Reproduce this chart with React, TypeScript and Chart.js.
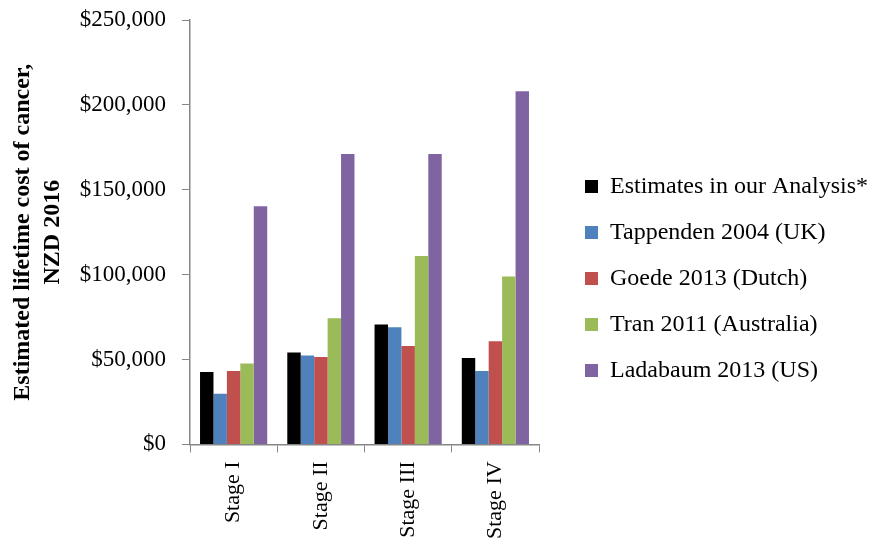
import { useEffect, useRef } from 'react';
import { Chart, registerables } from 'chart.js';

Chart.register(...registerables);

const stages = ['Stage I', 'Stage II', 'Stage III', 'Stage IV'];
const seriesNames = [
  'Estimates in our Analysis*',
  'Tappenden 2004 (UK)',
  'Goede 2013 (Dutch)',
  'Tran 2011 (Australia)',
  'Ladabaum 2013 (US)',
];
const ourAnalysis = [42600, 54100, 70600, 50900];
const tappenden = [29900, 52300, 69000, 43200];
const goede = [43200, 51500, 58000, 60700];
const tran = [47600, 74300, 111000, 98900];
const ladabaum = [140300, 171000, 171000, 208000];
const colors = ['#000000', '#4F81BD', '#C0504D', '#9BBB59', '#8064A2'];

const FONT = "'Liberation Serif', 'Times New Roman', serif";

export default function App() {
  const chartRef = useRef<HTMLCanvasElement>(null);
  const chartInstance = useRef<Chart | null>(null);

  useEffect(() => {
    document.body.style.margin = '0';
    if (!chartRef.current) return;
    if (chartInstance.current) chartInstance.current.destroy();

    const values = [ourAnalysis, tappenden, goede, tran, ladabaum];

    chartInstance.current = new Chart(chartRef.current, {
      type: 'bar',
      data: {
        labels: stages,
        datasets: values.map((v, i) => ({
          label: seriesNames[i],
          data: v,
          backgroundColor: colors[i],
          borderWidth: 0,
          categoryPercentage: 0.77,
          barPercentage: 1,
        })),
      },
      options: {
        animation: false,
        responsive: false,
        maintainAspectRatio: false,
        layout: { padding: { top: 9, right: 0, left: 6, bottom: 2 } },
        plugins: {
          tooltip: { enabled: false },
          legend: {
            position: 'right',
            maxWidth: 340,
            labels: {
              boxWidth: 13,
              boxHeight: 13,
              padding: 22,
              color: '#000',
              font: { family: FONT, size: 24 },
            },
          },
        },
        scales: {
          x: {
            grid: {
              drawOnChartArea: false,
              color: '#868686',
              tickLength: 8,
            },
            border: { color: '#868686', width: 1.5 },
            ticks: {
              color: '#000',
              font: { family: FONT, size: 22 },
              maxRotation: 90,
              minRotation: 90,
              padding: 9,
            },
          },
          y: {
            min: 0,
            max: 250000,
            grid: {
              drawOnChartArea: false,
              color: '#868686',
              tickLength: 8,
            },
            border: { color: '#868686', width: 1.5 },
            ticks: {
              stepSize: 50000,
              color: '#000',
              padding: 16,
              font: { family: FONT, size: 23 },
              callback: (v) => '$' + Number(v).toLocaleString('en-US'),
            },
            title: {
              display: true,
              text: ['Estimated lifetime cost of cancer,', 'NZD 2016'],
              color: '#000',
              font: { family: FONT, size: 24, weight: 'bold', lineHeight: 1.25 },
              padding: { top: 2, bottom: 6 },
            },
            afterFit: (scale) => {
              scale.width = 184;
              scale.paddingTop = 20;
              scale.paddingBottom = 0;
            },
          },
          // empty spacer between the plot and the legend
          gap: {
            type: 'linear',
            position: 'right',
            display: true,
            grid: { display: false },
            border: { display: false },
            ticks: { display: false },
            afterFit: (scale) => {
              scale.width = 24;
            },
          },
        },
      },
    });

    return () => {
      if (chartInstance.current) {
        chartInstance.current.destroy();
        chartInstance.current = null;
      }
    };
  }, []);

  return (
    <div style={{ width: 878, height: 550, background: '#fff' }}>
      <canvas ref={chartRef} width={878} height={550}></canvas>
    </div>
  );
}
